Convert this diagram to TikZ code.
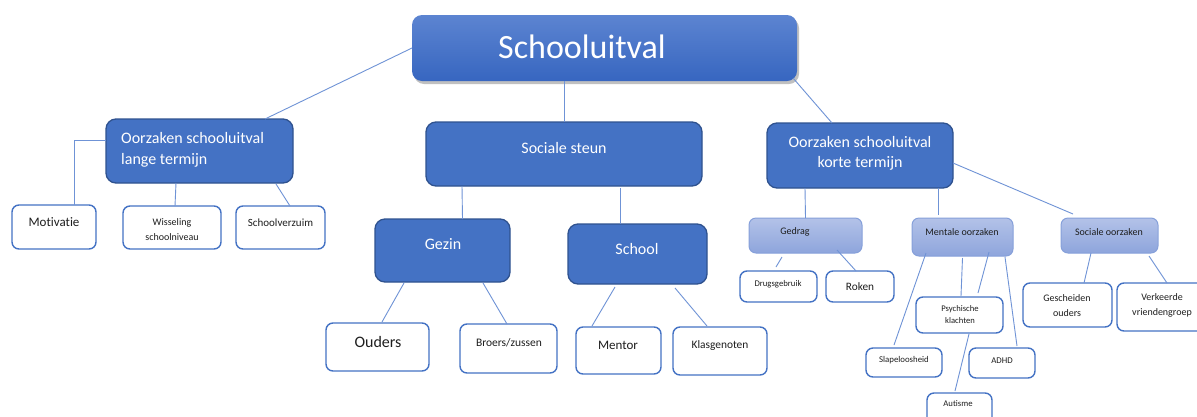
\documentclass[tikz,border=0pt]{standalone}
\usepackage{fontspec}
\setmainfont{Carlito}[Ligatures={NoCommon}]
\usetikzlibrary{calc,shadows}
\definecolor{obl}{HTML}{4472C4}
\definecolor{obd}{HTML}{2F528F}
\definecolor{lnc}{HTML}{6F93D6}
\definecolor{rtop}{HTML}{5C84D1}
\definecolor{rbot}{HTML}{3766C0}
\definecolor{ltop}{HTML}{B3C2E8}
\definecolor{lbot}{HTML}{8EA5DC}
\definecolor{lbrd}{HTML}{86A0DA}
\definecolor{txk}{HTML}{1E1E1E}
\tikzset{
  rootbox/.style={rounded corners=10pt, top color=rtop, bottom color=rbot, draw=none,
    drop shadow={shadow xshift=2pt, shadow yshift=-3pt, opacity=0.35, fill=black!70},
    inner sep=0pt, outer sep=0pt},
  darkbox/.style={rounded corners=10pt, fill=obl, draw=obd, line width=1.3pt, inner sep=0pt, outer sep=0pt},
  whitebox/.style={rounded corners=7pt, fill=white, draw=obl, line width=1.4pt, inner sep=0pt, outer sep=0pt},
  lightbox/.style={rounded corners=7pt, top color=ltop, bottom color=lbot, draw=lbrd, line width=1pt, inner sep=0pt, outer sep=0pt},
  conn/.style={draw=lnc, line width=0.9pt},
  wt/.style={text=white, inner sep=0pt},
  kt/.style={text=txk, inner sep=0pt},
  bx/.style args={#1x#2}{minimum width=#1pt, minimum height=#2pt},
}
\newcommand{\fs}[2]{\fontsize{#1}{#2}\selectfont}
\begin{document}
\begin{tikzpicture}[x=1pt,y=-1pt]
\fill[white] (0,0) rectangle (1197,416);
\useasboundingbox (0,0) rectangle (1197,416);

% boxes
\node[rootbox, bx=385x66] (root) at (604.5,48) {};
\node[darkbox, bx=187x64] (lange) at (199.5,151) {};
\node[darkbox, bx=276x64] (steun) at (564,154) {};
\node[darkbox, bx=186x65] (korte) at (860,155.5) {};
\node[whitebox, bx=84x44] (motiv) at (54,227) {};
\node[whitebox, bx=98x43] (wissel) at (172,227.5) {};
\node[whitebox, bx=89x43] (verzuim) at (280.5,227.5) {};
\node[darkbox, bx=135x63] (gezin) at (442.5,250.5) {};
\node[darkbox, bx=139x60] (school) at (637.5,254) {};
\node[whitebox, bx=103x48] (ouders) at (377.5,347) {};
\node[whitebox, bx=97x49] (broers) at (508.5,348.5) {};
\node[whitebox, bx=85x47] (mentor) at (618.5,350.5) {};
\node[whitebox, bx=94x48] (klas) at (720,351) {};
\node[lightbox, bx=113x35] (gedrag) at (805.5,235.5) {};
\node[lightbox, bx=101x38] (mentale) at (962.5,237) {};
\node[lightbox, bx=97x35] (socoorz) at (1109.5,235.5) {};
\node[whitebox, bx=77x31] (drugs) at (778.5,286.5) {};
\node[whitebox, bx=68x31] (roken) at (860,286.5) {};
\node[whitebox, bx=87x36] (psych) at (959.5,315) {};
\node[whitebox, bx=76x29] (slaap) at (904,362.5) {};
\node[whitebox, bx=66x30] (adhd) at (1002,363) {};
\node[whitebox, bx=65x34] (autisme) at (959.5,410) {};
\node[whitebox, bx=89x44] (gesch) at (1067.5,305) {};
\node[whitebox, bx=92x48] (verk) at (1163,307) {};

% texts
\node[wt, font=\fs{34}{40}] (t-root) at (582,47) {Schooluitval};
\node[wt, font=\fs{16}{21}, align=left, anchor=west] (t-lange) at (121,150) {Oorzaken schooluitval\\lange termijn};
\node[wt, font=\fs{16}{20}] (t-steun) at (564,148) {Sociale steun};
\node[wt, font=\fs{16}{20}, align=center] (t-korte) at (860,153) {Oorzaken schooluitval\\korte termijn};
\node[kt, font=\fs{13}{16}] (t-motiv) at (54,222) {Motivatie};
\node[kt, font=\fs{10}{15}, align=center] (t-wissel) at (172,229.5) {Wisseling\\schoolniveau};
\node[kt, font=\fs{11}{13}] (t-verzuim) at (280.5,223) {Schoolverzuim};
\node[wt, font=\fs{16}{20}] (t-gezin) at (443,244) {Gezin};
\node[wt, font=\fs{16}{20}] (t-school) at (637,249) {School};
\node[kt, font=\fs{16}{20}] (t-ouders) at (378,342) {Ouders};
\node[kt, font=\fs{11.5}{14}] (t-broers) at (509,343) {Broers/zussen};
\node[kt, font=\fs{13}{16}] (t-mentor) at (618,345) {Mentor};
\node[kt, font=\fs{11.4}{14}] (t-klas) at (720,346) {Klasgenoten};
\node[kt, font=\fs{10}{12}] (t-gedrag) at (795,232) {Gedrag};
\node[kt, font=\fs{10}{12}] (t-mentale) at (962,232) {Mentale oorzaken};
\node[kt, font=\fs{10}{12}] (t-socoorz) at (1109,232) {Sociale oorzaken};
\node[kt, font=\fs{8.7}{11}] (t-drugs) at (778,284) {Drugsgebruik};
\node[kt, font=\fs{11.3}{14}] (t-roken) at (860,287) {Roken};
\node[kt, font=\fs{8.6}{12}, align=center] (t-psych) at (960,315) {Psychische\\klachten};
\node[kt, font=\fs{8.8}{11}] (t-slaap) at (904,360) {Slapeloosheid};
\node[kt, font=\fs{8.8}{11}] (t-adhd) at (1002,361) {ADHD};
\node[kt, font=\fs{8.7}{11}] (t-autisme) at (958,404) {Autisme};
\node[kt, font=\fs{10}{15}, align=center] (t-gesch) at (1067,305.5) {Gescheiden\\ouders};
\node[kt, font=\fs{10}{15}, align=center] (t-verk) at (1162,305.5) {Verkeerde\\vriendengroep};

% connectors
\draw[conn] (root.west) -- ($(lange.north east)+(-28,0)$);
\draw[conn] (steun.north) -- (steun.north |- root.south);
\draw[conn] ($(root.south east)+(-4,-3)$) -- ($(korte.north)+(-28,0)$);
\draw[conn] ($(lange.west)+(0,-11)$) -| ($(motiv.north)+(20,0)$);
\draw[conn] ($(lange.south)+(-23.5,0)$) -- ($(wissel.north)+(3,0)$);
\draw[conn] ($(lange.south east)+(-17,1)$) -- ($(verzuim.north)+(9.5,0)$);
\draw[conn] ($(steun.south west)+(36,0)$) -- ($(gezin.north)+(20,0)$);
\draw[conn] ($(steun.south west)+(194,2)$) -- ($(school.north)+(-17.5,0)$);
\draw[conn] ($(gezin.south west)+(29,1)$) -- ($(ouders.north)+(4.5,-1)$);
\draw[conn] ($(gezin.south east)+(-27,1)$) -- ($(broers.north)+(-1.5,0)$);
\draw[conn] ($(school.south west)+(47,3)$) -- ($(mentor.north)+(-26.5,-1)$);
\draw[conn] ($(school.south east)+(-32,4)$) -- ($(klas.north)+(-13,-1)$);
\draw[conn] ($(korte.south west)+(38,0)$) -- (gedrag.north);
\draw[conn] ($(korte.south east)+(-15,0)$) -- ($(mentale.north)+(-24.5,-3)$);
\draw[conn] ($(korte.east)+(0,7.5)$) -- ($(socoorz.north)+(-36.5,-4)$);
\draw[conn] ($(gedrag.south west)+(33,4)$) -- ($(drugs.north)+(-2.5,-4)$);
\draw[conn] ($(gedrag.south east)+(-25,-3)$) -- ($(roken.north)+(-4,0)$);
\draw[conn] ($(mentale.south west)+(14,-3)$) -- ($(slaap.north)+(-10,-3)$);
\draw[conn] ($(mentale.south)+(0,2)$) -- ($(psych.north)+(1.5,-1)$);
\draw[conn] ($(mentale.south east)+(-24,-4)$) -- ($(psych.north)+(18.5,-4)$);
\draw[conn] ($(mentale.south east)+(-8,1)$) -- ($(adhd.north)+(15,-2)$);
\draw[conn] ($(psych.south)+(9.5,1)$) -- ($(autisme.north)+(-4.5,-2)$);
\draw[conn] ($(socoorz.south)+(-18.5,0)$) -- ($(gesch.north)+(16.5,0)$);
\draw[conn] ($(socoorz.south east)+(-9,3)$) -- ($(verk.north)+(4,0)$);
\end{tikzpicture}
\end{document}
